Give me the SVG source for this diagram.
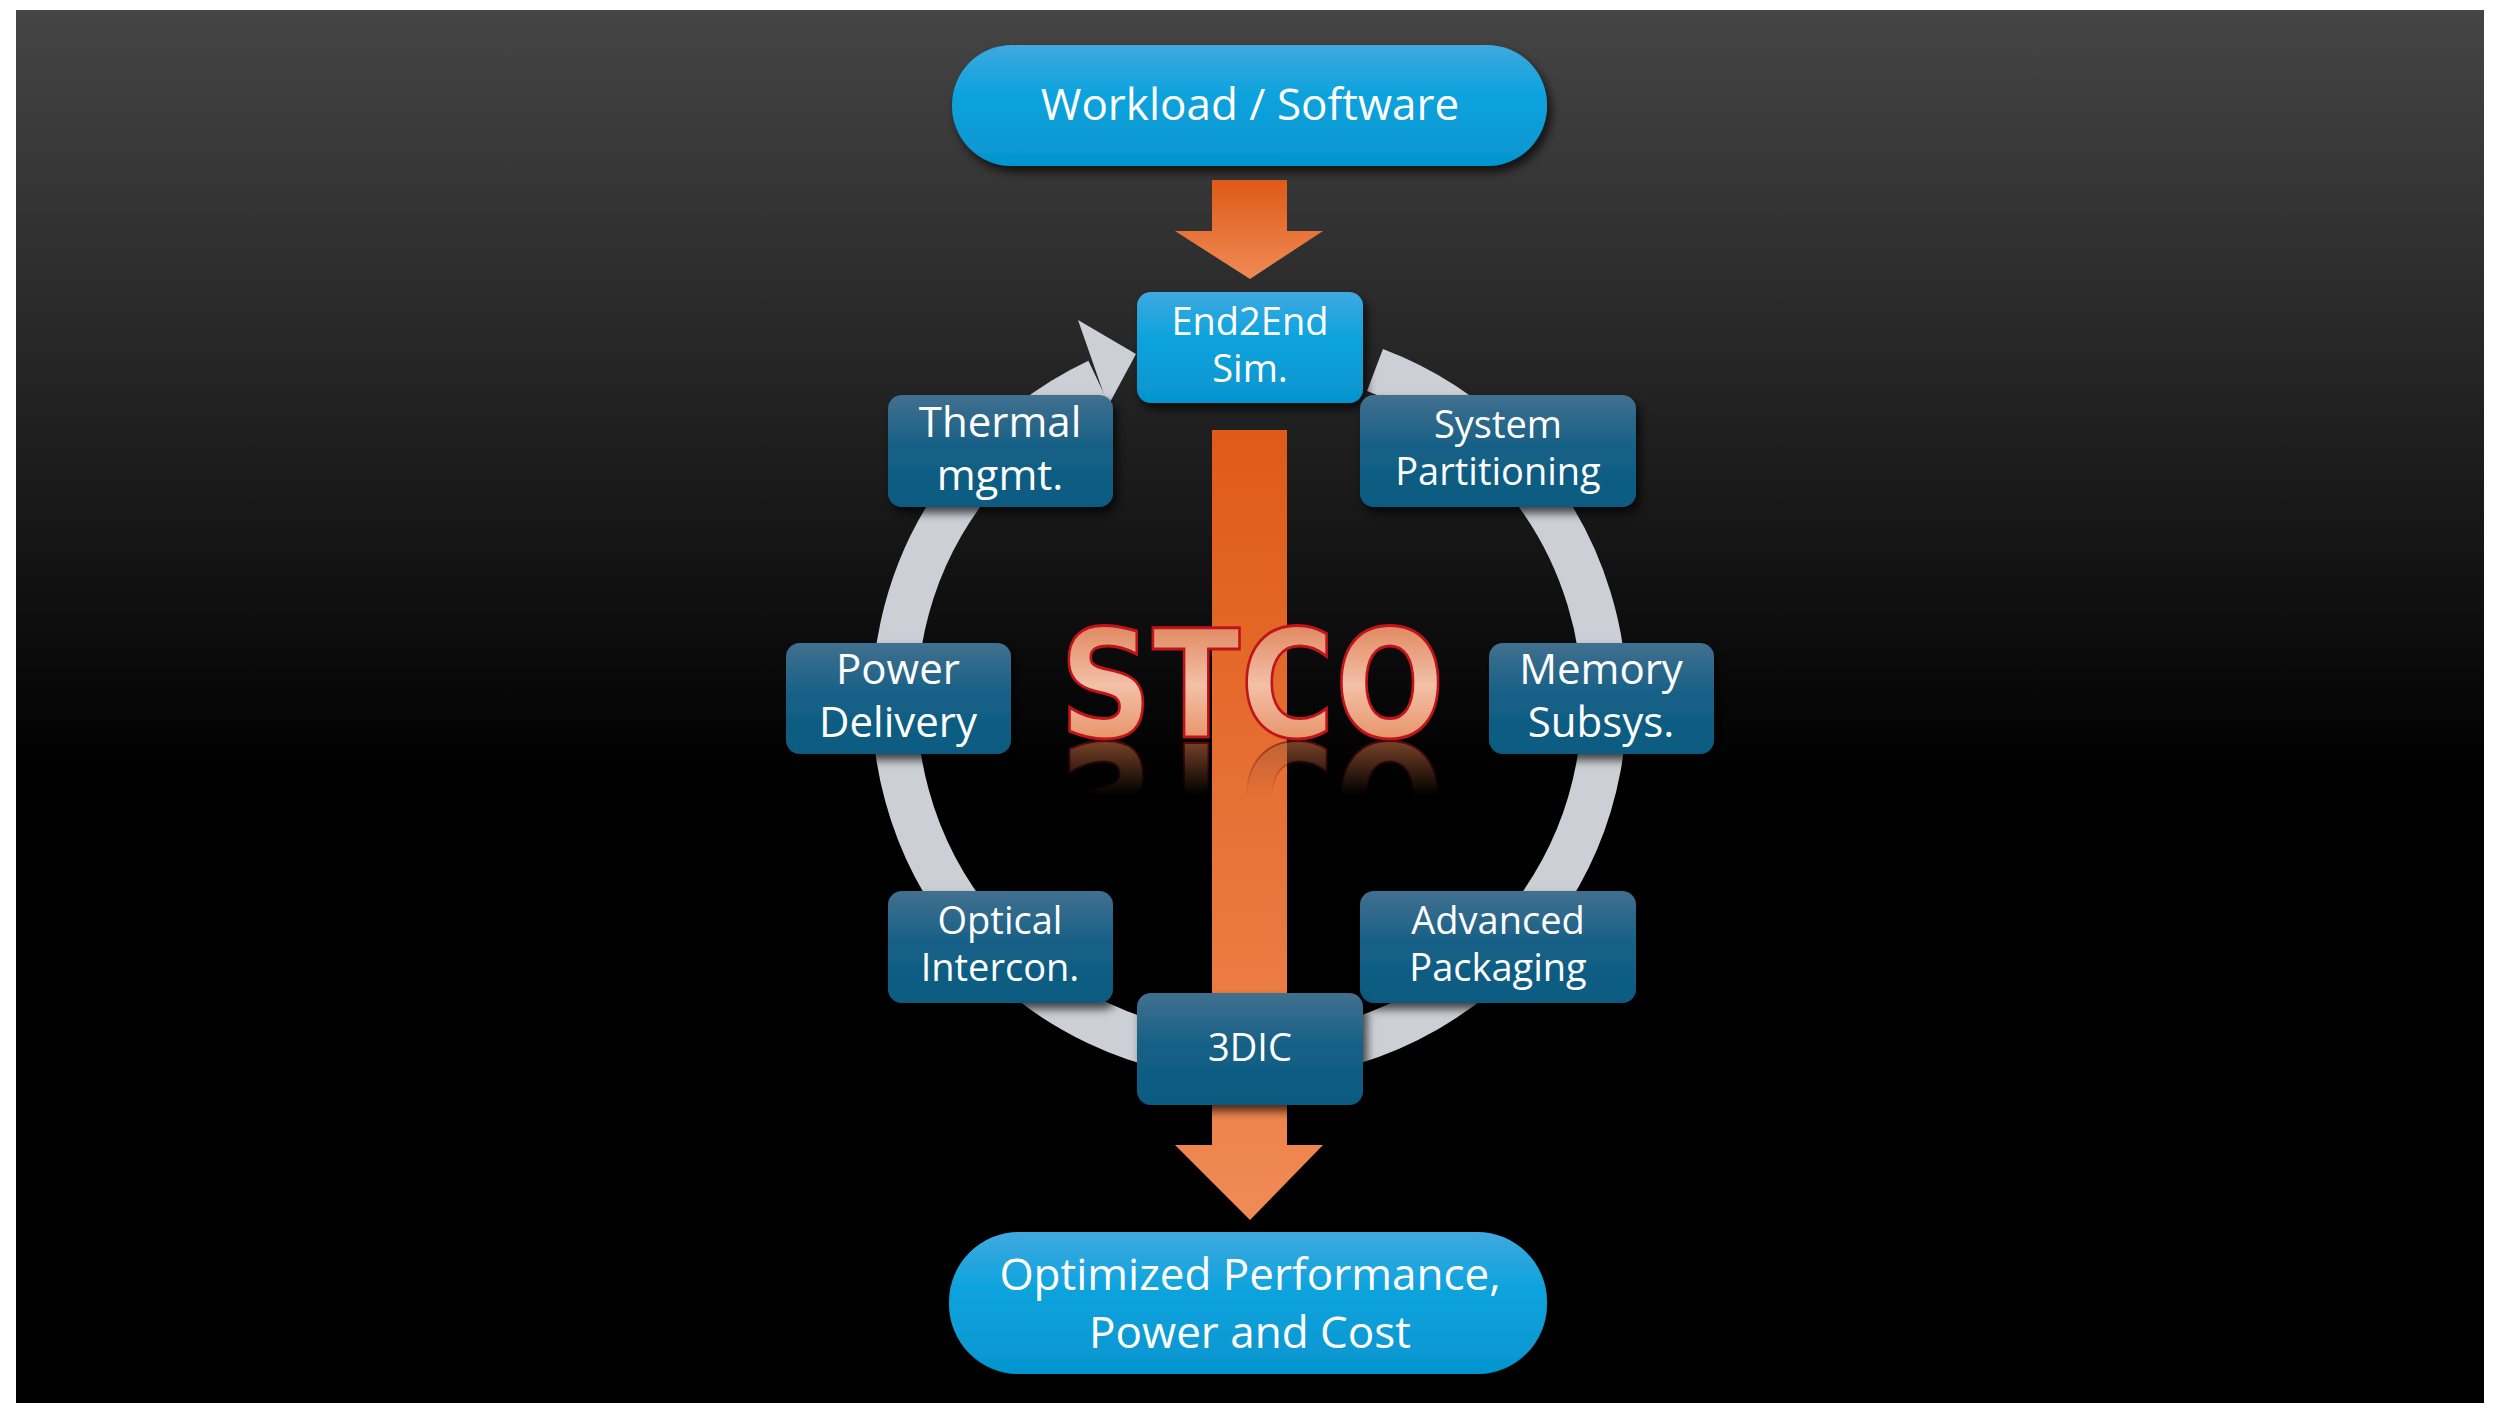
<svg xmlns="http://www.w3.org/2000/svg" width="2500" height="1421" viewBox="0 0 2500 1421">
<defs>
<linearGradient id="bg" x1="0" y1="0" x2="0" y2="1"><stop offset="0" stop-color="#454545"/><stop offset="0.55" stop-color="#000"/><stop offset="1" stop-color="#000"/></linearGradient>
<linearGradient id="pill" x1="0" y1="0" x2="0" y2="1"><stop offset="0" stop-color="#3fa9e0"/><stop offset="0.4" stop-color="#0ea3dd"/><stop offset="1" stop-color="#0595cf"/></linearGradient>
<linearGradient id="node" x1="0" y1="0" x2="0" y2="1"><stop offset="0" stop-color="#41708f"/><stop offset="0.5" stop-color="#145f86"/><stop offset="1" stop-color="#0b5a80"/></linearGradient>
<linearGradient id="shaft" x1="0" y1="0" x2="0" y2="1"><stop offset="0" stop-color="#df5a18"/><stop offset="1" stop-color="#f08a55"/></linearGradient>
<linearGradient id="stco" x1="0" y1="0" x2="0" y2="1"><stop offset="0" stop-color="#d8703f"/><stop offset="0.5" stop-color="#f3c0a8"/><stop offset="1" stop-color="#e07a45"/></linearGradient>
<linearGradient id="fade" gradientUnits="userSpaceOnUse" x1="0" y1="740" x2="0" y2="795"><stop offset="0" stop-color="#fff" stop-opacity="0.7"/><stop offset="1" stop-color="#fff" stop-opacity="0"/></linearGradient>
<mask id="rm"><rect x="1000" y="740" width="500" height="60" fill="url(#fade)"/></mask>
<filter id="sh" x="-10%" y="-10%" width="130%" height="140%"><feDropShadow dx="4" dy="6" stdDeviation="5" flood-color="#000" flood-opacity="0.7"/></filter>
</defs>
<style>
.t{font-family:"Open Sans","Liberation Sans",sans-serif;fill:#fff;text-anchor:middle}
.n{fill:url(#node);filter:url(#sh)}
.p{fill:url(#pill);filter:url(#sh)}
.s{font-family:"DejaVu Sans","Liberation Sans",sans-serif;font-weight:bold;font-size:150px;text-anchor:middle}
</style>
<rect width="2500" height="1421" fill="#fff"/>
<rect x="16" y="10" width="2468" height="1393" fill="url(#bg)"/>
<g id="connectors">
<path d="M 1098 381 A 355 355 0 1 0 1375 370" fill="none" stroke="#ccd0d6" stroke-width="45"/>
<path d="M 1078 320 L 1136 354 L 1108 406 Z" fill="#ccd0d6"/>
<polygon points="1212,180 1287,180 1287,231 1323,231 1250,279 1175,231 1212,231" fill="url(#shaft)"/>
<polygon points="1212,430 1287,430 1287,1145 1323,1145 1250,1220 1175,1145 1212,1145" fill="url(#shaft)"/>
</g>
<g id="stco">
<text class="s" x="1252" y="737" textLength="385" lengthAdjust="spacingAndGlyphs" fill="url(#stco)" stroke="#c0141a" stroke-width="3">STCO</text>
<g mask="url(#rm)"><g transform="translate(0,1480) scale(1,-1)"><text class="s" x="1252" y="737" textLength="385" lengthAdjust="spacingAndGlyphs" fill="#b0603a" stroke="#7a1010" stroke-width="2">STCO</text></g></g>
</g>
<g id="workload"><rect class="p" x="952" y="45" width="595" height="121" rx="60"/><text class="t" x="1250" y="120" font-size="44">Workload / Software</text></g>
<g id="result"><rect class="p" x="949" y="1232" width="598" height="142" rx="70"/><text class="t" x="1250" y="1290" font-size="44">Optimized Performance,</text><text class="t" x="1250" y="1348" font-size="44">Power and Cost</text></g>
<g id="e2e"><rect class="p" x="1137" y="292" width="226" height="111" rx="14"/><text class="t" x="1250" y="335" font-size="38">End2End</text><text class="t" x="1250" y="382" font-size="38">Sim.</text></g>
<g id="thermal"><rect class="n" x="888" y="395" width="225" height="112" rx="14"/><text class="t" x="1000" y="437" font-size="42">Thermal</text><text class="t" x="1000" y="490" font-size="42">mgmt.</text></g>
<g id="syspart"><rect class="n" x="1360" y="395" width="276" height="112" rx="14"/><text class="t" x="1498" y="438" font-size="38">System</text><text class="t" x="1498" y="485" font-size="38">Partitioning</text></g>
<g id="power"><rect class="n" x="786" y="643" width="225" height="111" rx="14"/><text class="t" x="898" y="684" font-size="42">Power</text><text class="t" x="898" y="737" font-size="42">Delivery</text></g>
<g id="memory"><rect class="n" x="1489" y="643" width="225" height="111" rx="14"/><text class="t" x="1601" y="684" font-size="42">Memory</text><text class="t" x="1601" y="737" font-size="42">Subsys.</text></g>
<g id="optical"><rect class="n" x="888" y="891" width="225" height="112" rx="14"/><text class="t" x="1000" y="934" font-size="38">Optical</text><text class="t" x="1000" y="981" font-size="38">Intercon.</text></g>
<g id="advpack"><rect class="n" x="1360" y="891" width="276" height="112" rx="14"/><text class="t" x="1498" y="934" font-size="38">Advanced</text><text class="t" x="1498" y="981" font-size="38">Packaging</text></g>
<g id="3dic"><rect class="n" x="1137" y="993" width="226" height="112" rx="14"/><text class="t" x="1250" y="1061" font-size="38">3DIC</text></g>
</svg>
